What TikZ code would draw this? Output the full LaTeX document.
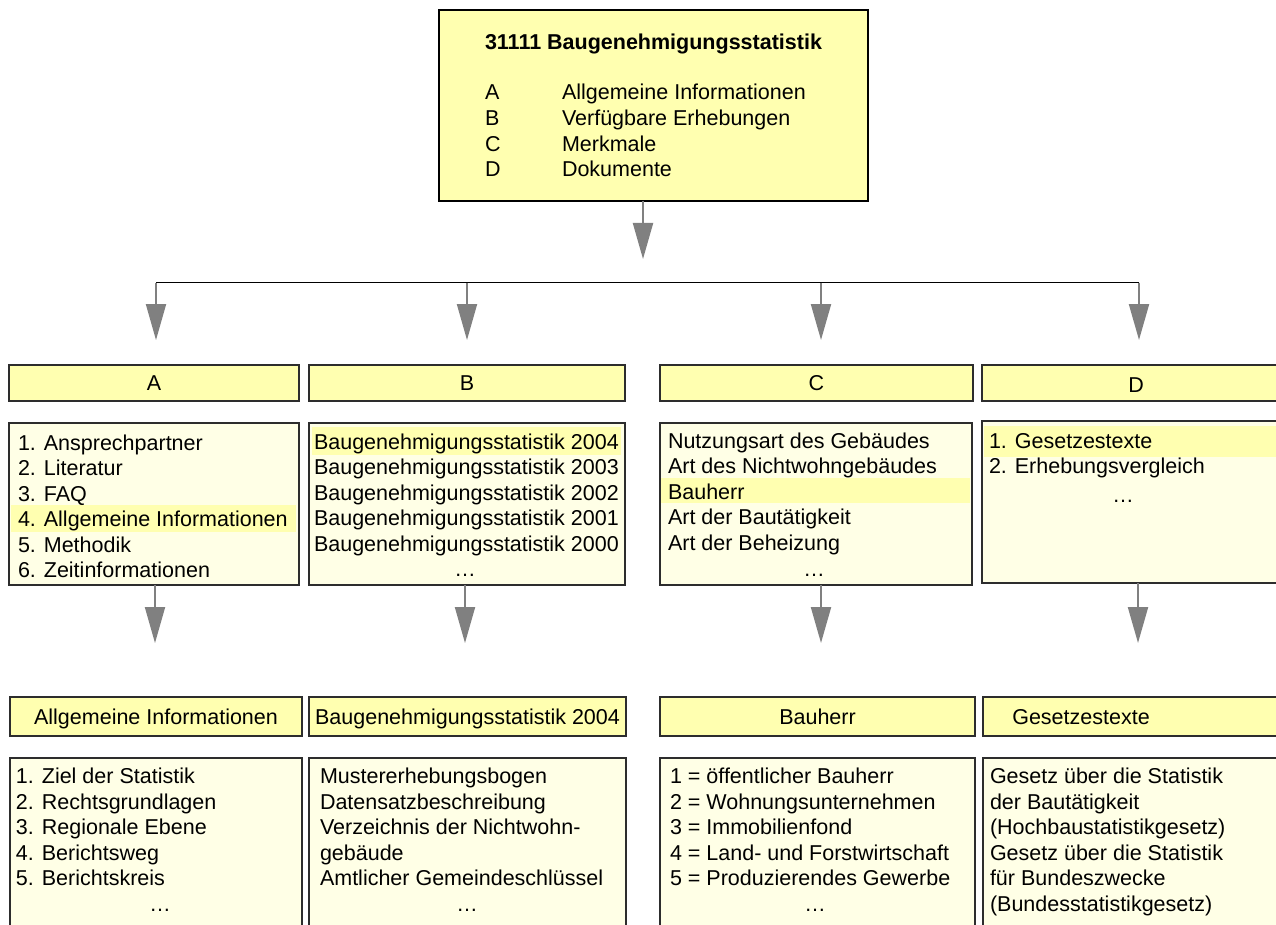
\documentclass[tikz,border=0pt]{standalone}
\usepackage{fontspec}
\setmainfont{Liberation Sans}
\usetikzlibrary{arrows.meta}
\definecolor{hdrY}{RGB}{255,255,176}
\definecolor{cntY}{RGB}{255,255,230}
\definecolor{arrG}{RGB}{128,128,128}
\definecolor{edgeC}{RGB}{45,45,45}
\newcommand{\bx}[7]{\node[#2, minimum width={(#5)-(#3)}, minimum height={(#6)-(#4)}] (#1) at ({((#3)+(#5))/2},{((#4)+(#6))/2}) {#7};}
\newcommand{\txl}[4]{\node[txt] (#1) at (#2,#3) {#4};}
\newcommand{\dts}[3]{\node[dts] (#1) at (#2,#3) {\dots};}
\tikzset{
  base/.style={inner sep=0pt, outer sep=0pt, font=\fontsize{21.5}{25.6}\selectfont},
  topbox/.style={base, draw=black, line width=1.5pt, fill=hdrY},
  hdr/.style={base, draw=edgeC, line width=1.3pt, fill=hdrY, text height=15.4pt, text depth=0pt},
  cnt/.style={base, draw=edgeC, line width=1.3pt, fill=cntY},
  hlt/.style={base, fill=hdrY},
  txt/.style={base, anchor=base west},
  dts/.style={base, anchor=base},
  arr/.style={draw=arrG, line width=2pt, -{Triangle[length=36pt,width=20pt,fill=arrG]}},
  bar/.style={draw=black, line width=1.2pt},
}
\begin{document}
\begin{tikzpicture}[x=1pt,y=-1pt]
\path[use as bounding box, clip] (0,0) rectangle (1276,925);
\fill[white] (0,0) rectangle (1276,925);

% top box
\bx{top}{topbox}{439}{10}{868}{201}{}
\txl{tt}{485}{50}{\bfseries 31111 Baugenehmigungsstatistik}
\txl{tA}{485}{100}{A}\txl{tAx}{562}{100}{Allgemeine Informationen}
\txl{tB}{485}{126}{B}\txl{tBx}{562}{126}{Verfügbare Erhebungen}
\txl{tC}{485}{151.5}{C}\txl{tCx}{562}{151.5}{Merkmale}
\txl{tD}{485}{177}{D}\txl{tDx}{562}{177}{Dokumente}

% row 1 headers
\bx{hA}{hdr}{9}{365}{299}{401}{A}
\bx{hB}{hdr}{309}{365}{625}{401}{B}
\bx{hC}{hdr}{660}{365}{973}{401}{C}
\bx{hD}{hdr}{982}{365}{1290}{401}{}
\node[base, text height=15.4pt, text depth=0pt] (hDt) at (1136,385) {D};

% row 1 contents
\bx{cA}{cnt}{9}{423}{299}{585}{}
\bx{sA}{hlt}{11}{505}{296}{532}{}
\txl{a1}{18}{450}{1. Ansprechpartner}
\txl{a2}{18}{475.5}{2. Literatur}
\txl{a3}{18}{501}{3. FAQ}
\txl{a4}{18}{526.5}{4. Allgemeine Informationen}
\txl{a5}{18}{552}{5. Methodik}
\txl{a6}{18}{577.5}{6. Zeitinformationen}

\bx{cB}{cnt}{309}{423}{625}{585}{}
\bx{sB}{hlt}{312}{427}{621}{455}{}
\txl{b1}{314}{449}{Baugenehmigungsstatistik 2004}
\txl{b2}{314}{474.5}{Baugenehmigungsstatistik 2003}
\txl{b3}{314}{500}{Baugenehmigungsstatistik 2002}
\txl{b4}{314}{525.5}{Baugenehmigungsstatistik 2001}
\txl{b5}{314}{551}{Baugenehmigungsstatistik 2000}
\dts{b6}{465}{576.5}

\bx{cC}{cnt}{660}{423}{972}{585}{}
\bx{sC}{hlt}{661}{478}{970}{503}{}
\txl{c1}{668}{448}{Nutzungsart des Gebäudes}
\txl{c2}{668}{473.5}{Art des Nichtwohngebäudes}
\txl{c3}{668}{499}{Bauherr}
\txl{c4}{668}{524.5}{Art der Bautätigkeit}
\txl{c5}{668}{550}{Art der Beheizung}
\dts{c6}{814}{576}

\bx{cD}{cnt}{982}{421}{1290}{583}{}
\bx{sD}{hlt}{984}{426}{1290}{457}{}
\txl{d1}{989}{448}{1. Gesetzestexte}
\txl{d2}{989}{473.5}{2. Erhebungsvergleich}
\dts{d3}{1123}{502}

% row 3 headers
\bx{gA}{hdr}{10}{697}{302}{736}{Allgemeine Informationen}
\bx{gB}{hdr}{309}{697}{626}{736}{Baugenehmigungsstatistik 2004}
\bx{gC}{hdr}{660}{697}{975}{736}{Bauherr}
\bx{gD}{hdr}{983}{697}{1290}{736}{}
\node[base, text height=15.4pt, text depth=0pt] (gDt) at (1081,716.5) {Gesetzestexte};

% row 3 contents
\bx{eA}{cnt}{10}{758}{302}{940}{}
\txl{e1}{16}{783.5}{1. Ziel der Statistik}
\txl{e2}{16}{809}{2. Rechtsgrundlagen}
\txl{e3}{16}{834.5}{3. Regionale Ebene}
\txl{e4}{16}{860}{4. Berichtsweg}
\txl{e5}{16}{885.5}{5. Berichtskreis}
\dts{e6}{160}{911}

\bx{fB}{cnt}{309}{758}{626}{940}{}
\txl{f1}{320}{783.5}{Mustererhebungsbogen}
\txl{f2}{320}{809}{Datensatzbeschreibung}
\txl{f3}{320}{834.5}{Verzeichnis der Nichtwohn-}
\txl{f4}{320}{860}{gebäude}
\txl{f5}{320}{885.5}{Amtlicher Gemeindeschlüssel}
\dts{f6}{467}{911}

\bx{kC}{cnt}{660}{758}{975}{940}{}
\txl{k1}{670}{783.5}{1 = öffentlicher Bauherr}
\txl{k2}{670}{809}{2 = Wohnungsunternehmen}
\txl{k3}{670}{834.5}{3 = Immobilienfond}
\txl{k4}{670}{860}{4 = Land- und Forstwirtschaft}
\txl{k5}{670}{885.5}{5 = Produzierendes Gewerbe}
\dts{k6}{815}{911}

\bx{mD}{cnt}{983}{758}{1290}{940}{}
\txl{m1}{990}{783.5}{Gesetz über die Statistik}
\txl{m2}{990}{809}{der Bautätigkeit}
\txl{m3}{990}{834.5}{(Hochbaustatistikgesetz)}
\txl{m4}{990}{860}{Gesetz über die Statistik}
\txl{m5}{990}{885.5}{für Bundeszwecke}
\txl{m6}{990}{911}{(Bundesstatistikgesetz)}

% connectors
\coordinate (t0) at (643,259);
\draw[arr] (top.south -| t0) -- (t0);
\coordinate (bA) at (156,282.5);
\coordinate (bB) at (467,282.5);
\coordinate (bC) at (821,282.5);
\coordinate (bD) at (1139,282.5);
\draw[bar] (bA) -- (bD);
\coordinate (pA) at (156,340);
\coordinate (pB) at (467,340);
\coordinate (pC) at (821,340);
\coordinate (pD) at (1139,340);
\draw[arr] (bA) -- (pA);
\draw[arr] (bB) -- (pB);
\draw[arr] (bC) -- (pC);
\draw[arr] (bD) -- (pD);
\coordinate (qA) at (155,643);
\coordinate (qB) at (465,643);
\coordinate (qC) at (821,643);
\coordinate (qD) at (1138,643);
\draw[arr] (cA.south -| qA) -- (qA);
\draw[arr] (cB.south -| qB) -- (qB);
\draw[arr] (cC.south -| qC) -- (qC);
\draw[arr] (cD.south -| qD) -- (qD);
\end{tikzpicture}
\end{document}
